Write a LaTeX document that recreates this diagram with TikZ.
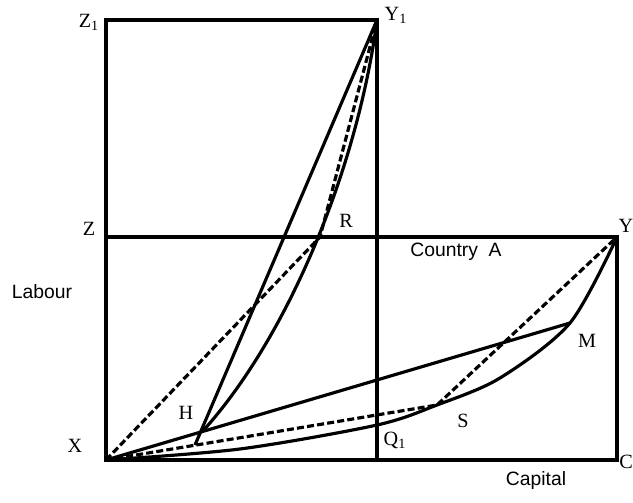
\documentclass[tikz,border=0pt]{standalone}
\usepackage{fontspec}
\setmainfont{Liberation Serif}
\setsansfont{Liberation Sans}
\usetikzlibrary{positioning}

\begin{document}
\begin{tikzpicture}[
  x=0.02cm, y=-0.02cm,
  box/.style={draw=black, line width=2pt},
  curve/.style={draw=black, line width=1.8pt},
  ray/.style={draw=black, line width=1.8pt, dash pattern=on 4pt off 1.8pt},
  tag/.style={font=\fontsize{11.5}{13}\selectfont, inner sep=0pt},
  axis/.style={font=\sffamily\fontsize{11}{13}\selectfont, inner sep=0pt}
]
  \useasboundingbox (0,0) rectangle (633,503);
  % corners of the two boxes
  \coordinate (X) at (106,460);
  \coordinate (Z1) at (106,20);
  \coordinate (Y1) at (377,20);
  \coordinate (Z) at (106,237);
  \coordinate (Y) at (617,237);
  \coordinate (C) at (617,460);
  % points on the curves
  \coordinate (R) at (320,237);
  \coordinate (H) at (202,432);
  \coordinate (F) at (195,445);
  \coordinate (Q1) at (377,425);
  \coordinate (S) at (437,405);
  \coordinate (M) at (570,323);

  \draw[box] (X) rectangle (Y1);
  \draw[box] (X) rectangle (Y);

  \draw[ray] (X) -- (R) -- (Y1);
  \draw[ray] (X) -- (S) -- (Y);

  \draw[curve] (X) -- (M);
  \draw[curve] (Y1) -- (F);
  \draw[curve] (H) .. controls (290,335) and (358,165) .. (Y1);
  \draw[curve] plot[smooth] coordinates {(X) (240,449) (Q1) (S) (500,378) (M) (Y)};

  % labels
  \node[tag] (lZ1) at (89,22) {Z\textsubscript{1}};
  \node[tag] (lY1) at (396,15) {Y\textsubscript{1}};
  \node[tag] (lZ) at (89,229) {Z};
  \node[tag] (lR) at (346,221) {R};
  \node[tag] (lY) at (626,226) {Y};
  \node[tag] (lH) at (186,413) {H};
  \node[tag] (lM) at (587,341) {M};
  \node[tag] (lS) at (463,421) {S};
  \node[tag] (lX) at (75,446) {X};
  \node[tag] (lQ1) at (395,440) {Q\textsubscript{1}};
  \node[tag] (lC) at (626,462) {C};
  \node[axis] (country) at (456,252) {Country~~A};
  \node[axis] (labour) at (42,292) {Labour};
  \node[axis] (capital) at (536,481) {Capital};
\end{tikzpicture}
\end{document}
